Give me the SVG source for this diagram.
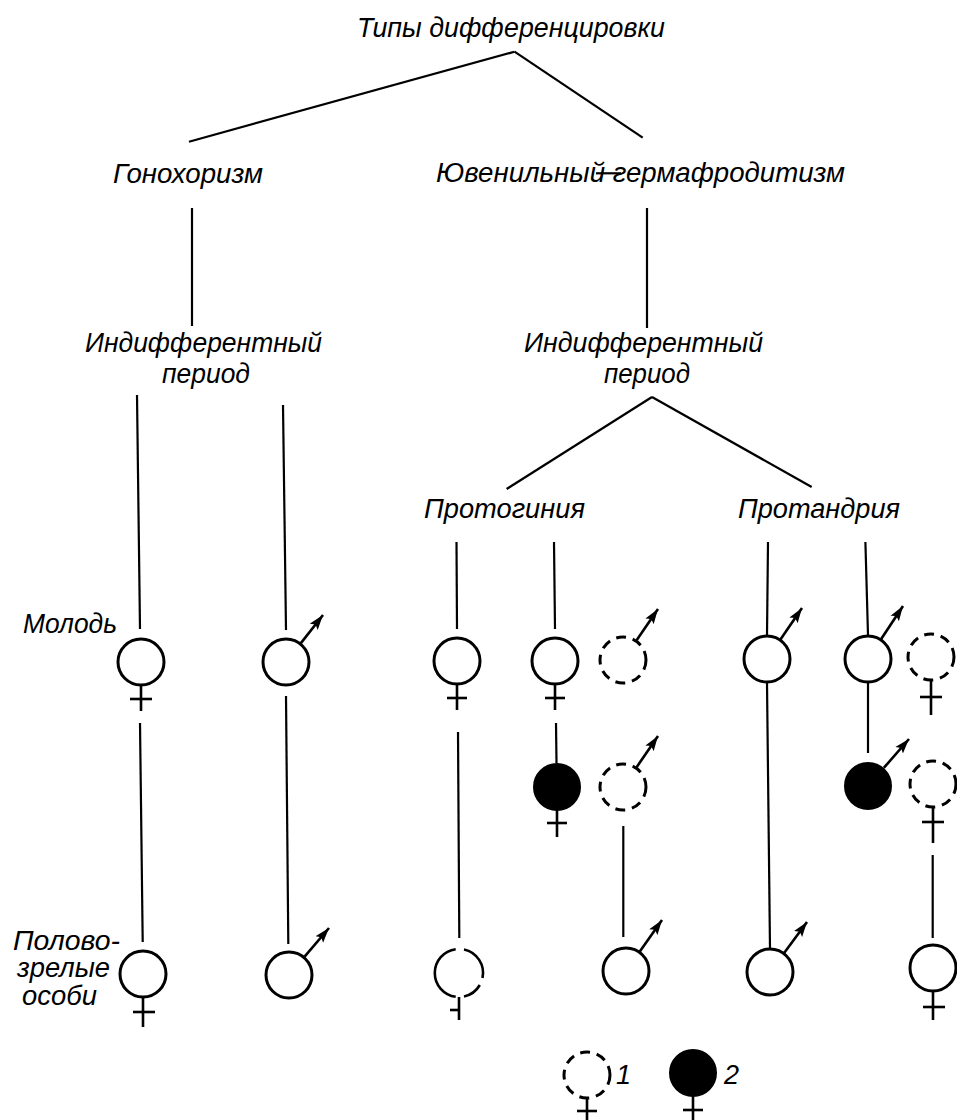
<svg xmlns="http://www.w3.org/2000/svg" width="957" height="1120" viewBox="0 0 957 1120">
<defs>
<marker id="arr" markerUnits="userSpaceOnUse" markerWidth="16" markerHeight="11" refX="15" refY="5.5" orient="auto">
<path d="M0,0.5 L15,5.5 L0,10.5 L3,5.5 z" fill="#000"/>
</marker>
<style>
text{font-family:"Liberation Sans","DejaVu Sans",sans-serif;font-style:italic;font-size:27px;fill:#000}
.ln{stroke:#000;stroke-width:2.2;fill:none;stroke-linecap:butt}
.c{stroke:#000;stroke-width:3;fill:#fff}
.d{stroke:#000;stroke-width:3;fill:#fff;stroke-dasharray:10 6.8}
.f{stroke:#000;stroke-width:2;fill:#000}
.x{stroke:#000;stroke-width:2.6;fill:none}
.m{stroke:#000;stroke-width:2.6;fill:none;marker-end:url(#arr)}
</style>
</defs>
<rect width="957" height="1120" fill="#fff"/>

<g id="connectors">
<line class="ln" x1="514.5" y1="51.7" x2="189" y2="141.7"/>
<line class="ln" x1="514.5" y1="51.7" x2="642.7" y2="137.7"/>
<line class="ln" x1="192" y1="208" x2="192" y2="326"/>
<line class="ln" x1="647" y1="208" x2="647" y2="328"/>
<line class="ln" x1="137" y1="395" x2="140" y2="629"/>
<line class="ln" x1="283" y1="405" x2="286" y2="630"/>
<line class="ln" x1="652" y1="397" x2="506.6" y2="489"/>
<line class="ln" x1="652" y1="397" x2="811.7" y2="487"/>
<line class="ln" x1="456.5" y1="542" x2="457" y2="629"/>
<line class="ln" x1="554" y1="542" x2="555" y2="629"/>
<line class="ln" x1="768" y1="542" x2="767" y2="635"/>
<line class="ln" x1="865.4" y1="542" x2="868" y2="635"/>
<line class="ln" x1="140" y1="723" x2="142.7" y2="942"/>
<line class="ln" x1="286" y1="696" x2="288.3" y2="944"/>
<line class="ln" x1="458" y1="732" x2="459.3" y2="938"/>
<line class="ln" x1="556" y1="723" x2="556.5" y2="763"/>
<line class="ln" x1="623.3" y1="826" x2="623.3" y2="937"/>
<line class="ln" x1="767" y1="683" x2="770" y2="948"/>
<line class="ln" x1="868" y1="683" x2="868" y2="753"/>
<line class="ln" x1="932.7" y1="855" x2="932.7" y2="938"/>
<line class="ln" x1="596" y1="173.3" x2="621" y2="173.3" stroke-width="1.6"/>
</g>

<g id="t-title"><text x="357" y="37" textLength="308" lengthAdjust="spacingAndGlyphs">Типы  дифференцировки</text></g>
<g id="t-gono"><text x="113" y="183" textLength="150" lengthAdjust="spacingAndGlyphs">Гонохоризм</text></g>
<g id="t-juv"><text x="436" y="182" textLength="409" lengthAdjust="spacingAndGlyphs">Ювенильный гермафродитизм</text></g>
<g id="t-ind-left">
<text x="85" y="352" font-size="23" textLength="237" lengthAdjust="spacingAndGlyphs">Индифферентный</text>
<text x="162" y="383" font-size="23" textLength="88" lengthAdjust="spacingAndGlyphs">период</text>
</g>
<g id="t-ind-right">
<text x="524" y="352" font-size="23" textLength="239" lengthAdjust="spacingAndGlyphs">Индифферентный</text>
<text x="604" y="383" font-size="23" textLength="86" lengthAdjust="spacingAndGlyphs">период</text>
</g>
<g id="t-protog"><text x="424" y="518" textLength="161" lengthAdjust="spacingAndGlyphs">Протогиния</text></g>
<g id="t-protand"><text x="738" y="518" textLength="162" lengthAdjust="spacingAndGlyphs">Протандрия</text></g>
<g id="t-young"><text x="23" y="633" textLength="94" lengthAdjust="spacingAndGlyphs">Молодь</text></g>
<g id="t-mature">
<text x="13" y="950" textLength="107" lengthAdjust="spacingAndGlyphs">Полово-</text>
<text x="17" y="977" textLength="93" lengthAdjust="spacingAndGlyphs">зрелые</text>
<text x="22" y="1005" textLength="75" lengthAdjust="spacingAndGlyphs">особи</text>
</g>

<g id="n-g-f-young">
<circle class="c" cx="141" cy="662" r="23"/>
<line class="x" x1="141" y1="686" x2="141" y2="711"/>
<line class="x" x1="130" y1="699" x2="152" y2="699"/>
</g>
<g id="n-g-f-mature">
<circle class="c" cx="143" cy="974" r="23"/>
<line class="x" x1="143" y1="998" x2="143" y2="1027"/>
<line class="x" x1="133" y1="1012" x2="155" y2="1012"/>
</g>
<g id="n-g-m-young">
<circle class="c" cx="286" cy="662" r="23"/>
<line class="m" x1="300.9" y1="643.1" x2="323" y2="615"/>
</g>
<g id="n-g-m-mature">
<circle class="c" cx="289" cy="975" r="23"/>
<line class="m" x1="304.6" y1="956.7" x2="329" y2="928"/>
</g>

<g id="n-pg1-young">
<circle class="c" cx="457" cy="661" r="23"/>
<line class="x" x1="457" y1="685" x2="457" y2="710"/>
<line class="x" x1="447" y1="698" x2="467" y2="698"/>
</g>
<g id="n-pg1-mature">
<path class="x" stroke-width="3" d="M464,949.5 A24,24 0 0 1 482.5,978 M479.8,985 A24,24 0 0 1 464,996.5 M455.7,996.8 A24,24 0 0 1 455.7,949.2"/>
<line class="x" x1="459" y1="997" x2="459" y2="1020"/>
<line class="x" x1="450" y1="1010" x2="459" y2="1010"/>
</g>

<g id="n-pg2-young">
<circle class="c" cx="555" cy="661" r="23"/>
<line class="x" x1="555" y1="685" x2="555" y2="710"/>
<line class="x" x1="545" y1="698" x2="565" y2="698"/>
</g>
<g id="n-pg2-black">
<circle class="f" cx="557" cy="787" r="23"/>
<line class="x" x1="557" y1="810" x2="557" y2="837"/>
<line class="x" x1="547" y1="823" x2="567" y2="823"/>
</g>
<g id="n-pg2-dash1">
<circle class="d" cx="623" cy="660" r="23"/>
<line class="m" x1="636.6" y1="640.2" x2="658" y2="609"/>
</g>
<g id="n-pg2-dash2">
<circle class="d" cx="623" cy="787" r="23"/>
<line class="m" x1="636.6" y1="767.2" x2="658" y2="736"/>
</g>
<g id="n-pg2-mature">
<circle class="c" cx="626" cy="971" r="23"/>
<line class="m" x1="639.8" y1="951.4" x2="662" y2="920"/>
</g>

<g id="n-pa1-young">
<circle class="c" cx="767" cy="659" r="23"/>
<line class="m" x1="780.6" y1="639.2" x2="802" y2="608"/>
</g>
<g id="n-pa1-mature">
<circle class="c" cx="770" cy="972" r="23"/>
<line class="m" x1="784.3" y1="952.7" x2="807" y2="922"/>
</g>

<g id="n-pa2-young">
<circle class="c" cx="868" cy="659" r="23"/>
<line class="m" x1="881.2" y1="639" x2="903" y2="606"/>
</g>
<g id="n-pa2-black">
<circle class="f" cx="868" cy="786" r="23"/>
<line class="m" x1="883.8" y1="767.9" x2="909" y2="739"/>
</g>
<g id="n-pa2-dash1">
<circle class="d" cx="931" cy="657" r="23"/>
<line class="x" x1="931" y1="680" x2="931" y2="715"/>
<line class="x" x1="920" y1="697" x2="942" y2="697"/>
</g>
<g id="n-pa2-dash2">
<circle class="d" cx="933" cy="784" r="23"/>
<line class="x" x1="933" y1="807" x2="933" y2="843"/>
<line class="x" x1="922" y1="822" x2="944" y2="822"/>
</g>
<g id="n-pa2-mature">
<circle class="c" cx="933" cy="968" r="23"/>
<line class="x" x1="933" y1="992" x2="933" y2="1020"/>
<line class="x" x1="923" y1="1007" x2="945" y2="1007"/>
</g>

<g id="legend-1">
<circle class="d" cx="587" cy="1075" r="23" stroke-dasharray="9 6.4"/>
<line class="x" x1="587" y1="1098" x2="587" y2="1120"/>
<line class="x" x1="577" y1="1111" x2="597" y2="1111"/>
<text x="616" y="1084" font-size="24">1</text>
</g>
<g id="legend-2">
<circle class="f" cx="693" cy="1073" r="23"/>
<line class="x" x1="693" y1="1096" x2="693" y2="1120"/>
<line class="x" x1="683" y1="1110" x2="703" y2="1110"/>
<text x="724" y="1084" font-size="24">2</text>
</g>
</svg>
